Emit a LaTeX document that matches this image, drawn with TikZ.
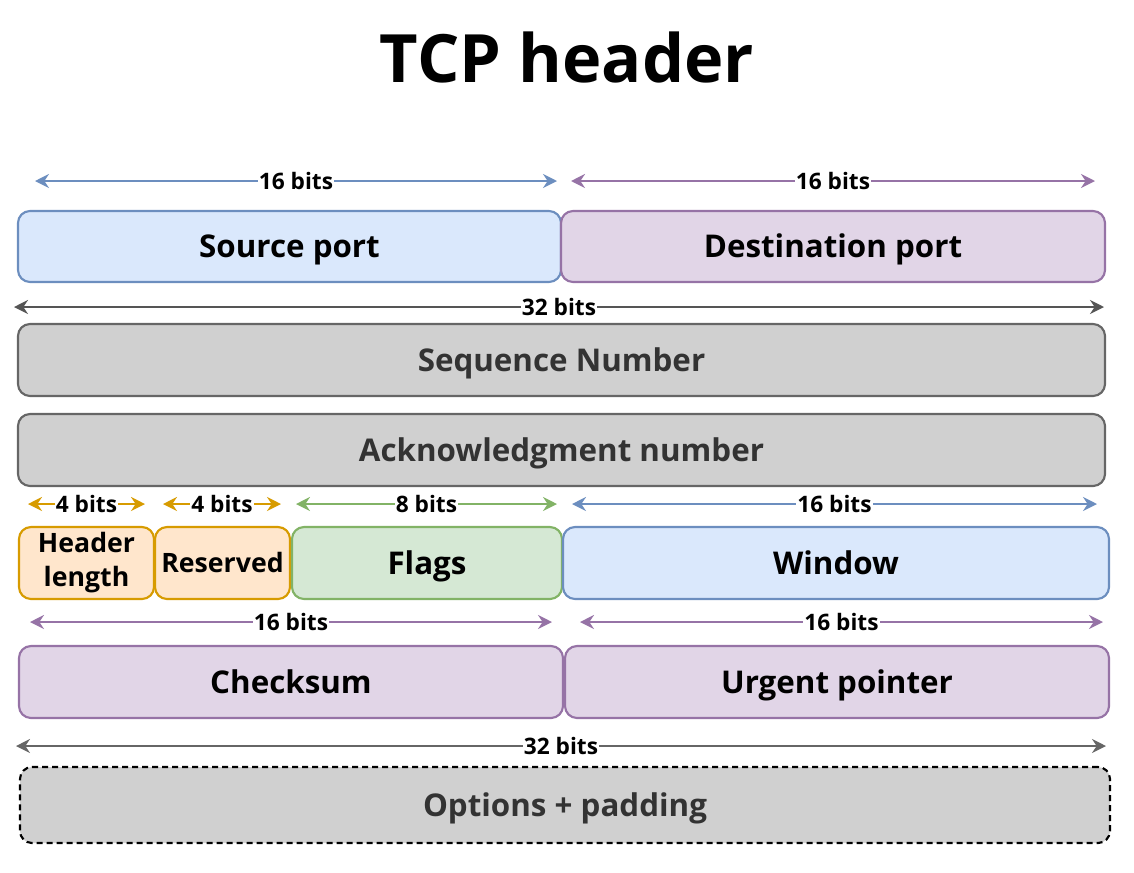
\documentclass[tikz,border=0pt]{standalone}
\usepackage{fontspec}
\setmainfont{Open Sans}
\usetikzlibrary{arrows.meta}
\definecolor{blueF}{HTML}{DAE8FC}\definecolor{blueD}{HTML}{6C8EBF}
\definecolor{purF}{HTML}{E1D5E7}\definecolor{purD}{HTML}{9673A6}
\definecolor{grayF}{HTML}{D0D0D0}\definecolor{grayD}{HTML}{666666}
\definecolor{oraF}{HTML}{FFE6CC}\definecolor{oraD}{HTML}{D79B00}
\definecolor{grnF}{HTML}{D5E8D4}\definecolor{grnD}{HTML}{82B366}
\definecolor{txtG}{HTML}{333333}
\definecolor{arrG}{HTML}{555555}
\tikzset{
  field/.style={draw, line width=1.6pt, rounded corners=9pt, inner sep=0pt, outer sep=0pt,
    font=\bfseries\fontsize{23.5}{28}\selectfont, align=center},
  oneline/.style={text height=16.8pt, text depth=0pt},
  sz/.style 2 args={minimum width=#1*0.75pt, minimum height=#2*0.75pt},
  fblue/.style={field, fill=blueF, draw=blueD},
  fpur/.style={field, fill=purF, draw=purD},
  fgray/.style={field, fill=grayF, draw=grayD, text=txtG},
  fora/.style={field, fill=oraF, draw=oraD},
  fgrn/.style={field, fill=grnF, draw=grnD},
  dim/.style={line width=1.7pt, {Stealth[length=10.5pt,width=10.5pt,inset=3.5pt]}-{Stealth[length=10.5pt,width=10.5pt,inset=3.5pt]}},
  lbl/.style={fill=white, inner sep=1pt, font=\bfseries\fontsize{17}{19}\selectfont, text=black},
}
\begin{document}
\begin{tikzpicture}[x=0.75pt, y=-0.75pt]
\useasboundingbox (0,0) rectangle (1134,872);
\node[anchor=base, font=\bfseries\fontsize{50}{58}\selectfont] (title) at (567,82) {TCP header};

% row 1
\node[fblue, oneline, sz={543}{71}] (src) at (289.5,246.5) {Source port};
\node[fpur, oneline, sz={544}{71}] (dst) at (833,246.5) {Destination port};
% sequence / ack
\node[fgray, oneline, sz={1087}{72}] (seq) at (561.5,360) {Sequence Number};
\node[fgray, oneline, sz={1087}{72}] (ack) at (561.5,450) {Acknowledgment number};
% row 4
\node[fora, sz={135}{72}, font=\bfseries\fontsize{20}{25.5}\selectfont] (hlen) at (86.5,563) {Header\\length};
\node[fora, sz={135}{72}, text height=14.3pt, text depth=0pt, font=\bfseries\fontsize{20}{25}\selectfont] (res) at (222.5,563) {Reserved};
\node[fgrn, oneline, sz={270}{72}] (flags) at (427,563) {Flags};
\node[fblue, oneline, sz={546}{72}] (win) at (836,563) {Window};
% row 5
\node[fpur, oneline, sz={544}{72}] (chk) at (291,682) {Checksum};
\node[fpur, oneline, sz={544}{72}] (urg) at (837,682) {Urgent pointer};
% options
\node[fgray, oneline, sz={1090}{76}, draw=black, dash pattern=on 4.5pt off 3pt] (opt) at (565,805) {Options + padding};

% dimension arrows
\coordinate (a1l) at (35,181); \coordinate (a1r) at (557,181);
\coordinate (a2l) at (571,181); \coordinate (a2r) at (1095,181);
\coordinate (a3l) at (14,307); \coordinate (a3r) at (1104,307);
\coordinate (b1l) at (28,504); \coordinate (b1r) at (145,504);
\coordinate (b2l) at (163,504); \coordinate (b2r) at (281,504);
\coordinate (b3l) at (296,504); \coordinate (b3r) at (557,504);
\coordinate (b4l) at (572,504); \coordinate (b4r) at (1097,504);
\coordinate (c1l) at (30,622); \coordinate (c1r) at (552,622);
\coordinate (c2l) at (580,622); \coordinate (c2r) at (1103,622);
\coordinate (d1l) at (16,746); \coordinate (d1r) at (1106,746);

\draw[dim, blueD] (a1l) -- node[lbl] {16 bits} (a1r);
\draw[dim, purD] (a2l) -- node[lbl] {16 bits} (a2r);
\draw[dim, arrG] (a3l) -- node[lbl] {32 bits} (a3r);
\draw[dim, oraD] (b1l) -- node[lbl] {4 bits} (b1r);
\draw[dim, oraD] (b2l) -- node[lbl] {4 bits} (b2r);
\draw[dim, grnD] (b3l) -- node[lbl] {8 bits} (b3r);
\draw[dim, blueD] (b4l) -- node[lbl] {16 bits} (b4r);
\draw[dim, purD] (c1l) -- node[lbl] {16 bits} (c1r);
\draw[dim, purD] (c2l) -- node[lbl] {16 bits} (c2r);
\draw[dim, grayD] (d1l) -- node[lbl] {32 bits} (d1r);
\end{tikzpicture}
\end{document}
